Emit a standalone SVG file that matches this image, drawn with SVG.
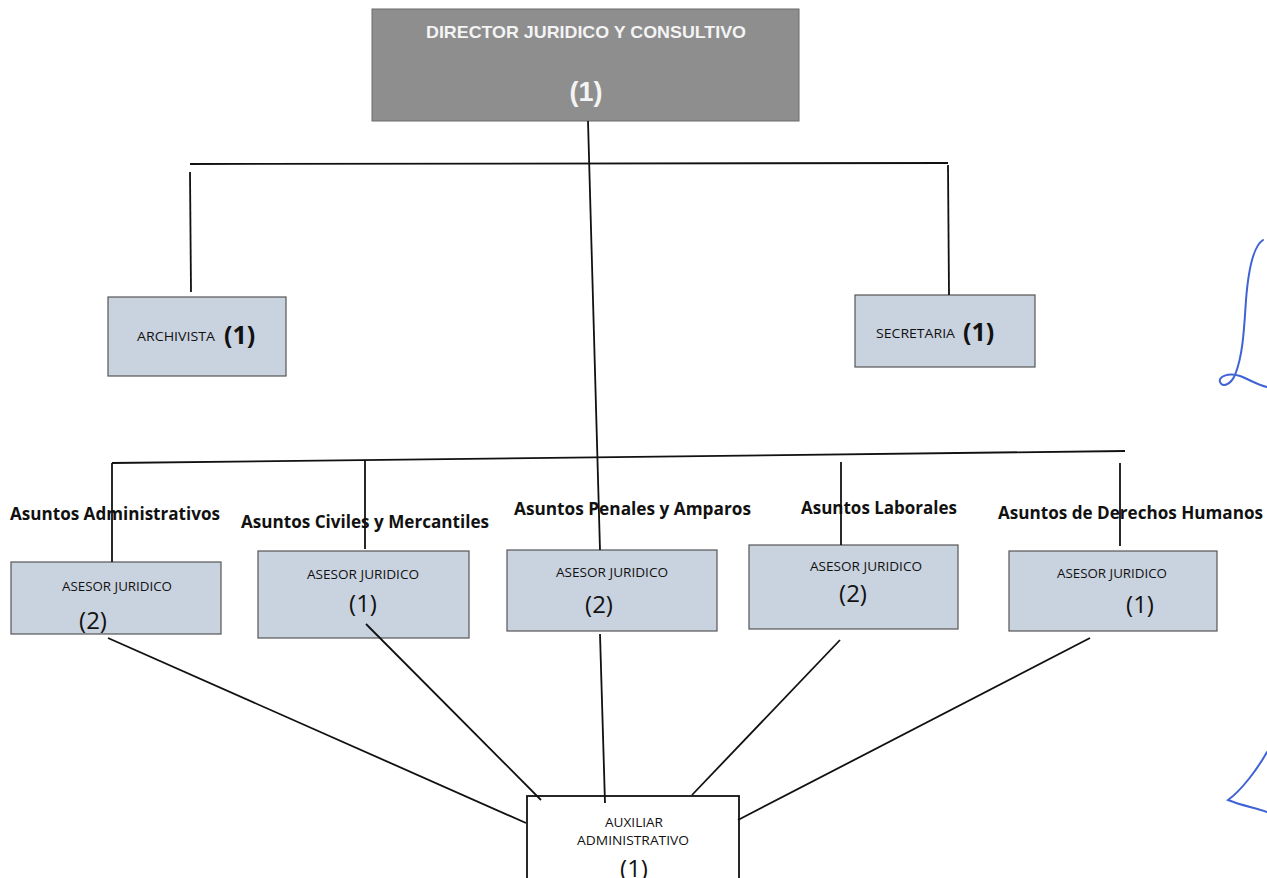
<svg xmlns="http://www.w3.org/2000/svg" width="1267" height="878" viewBox="0 0 1267 878">
<style>
.box{fill:#c9d2df;stroke:#555;stroke-width:1.2}
.ln{stroke:#111;stroke-width:1.8;fill:none}
.lbl{font-family:"Open Sans","Noto Sans",sans-serif;font-weight:bold;font-size:17px;fill:#111}
.sm{font-family:"Open Sans","Noto Sans",sans-serif;font-size:12.5px;fill:#111}
.num{font-family:"Open Sans","Noto Sans",sans-serif;font-size:24px;fill:#111}
.bnum{font-family:"Open Sans","Noto Sans",sans-serif;font-weight:bold;font-size:25px;fill:#111}
.ink{stroke:#3f63d6;stroke-width:2;fill:none;stroke-linecap:round}
</style>
<rect width="1267" height="878" fill="#ffffff"/>
<g id="director">
<rect x="372" y="9" width="427" height="112" fill="#8e8e8e" stroke="#6b6b6b" stroke-width="1"/>
<text x="586" y="38" text-anchor="middle" font-family="Liberation Sans,Arial,sans-serif" font-weight="bold" font-size="17" fill="#f4f4f4" textLength="320" lengthAdjust="spacingAndGlyphs">DIRECTOR JURIDICO Y CONSULTIVO</text>
<text x="586" y="101" text-anchor="middle" font-family="Liberation Sans,Arial,sans-serif" font-weight="bold" font-size="27" fill="#f4f4f4">(1)</text>
</g>
<g id="archivista">
<rect class="box" x="108" y="297" width="178" height="79"/>
<text x="137" y="341" class="sm" font-size="13" textLength="78" lengthAdjust="spacingAndGlyphs">ARCHIVISTA</text>
<text x="224" y="344" class="bnum">(1)</text>
</g>
<g id="secretaria">
<rect class="box" x="855" y="295" width="180" height="72"/>
<text x="876" y="338" class="sm" font-size="13" textLength="79" lengthAdjust="spacingAndGlyphs">SECRETARIA</text>
<text x="963" y="341" class="bnum">(1)</text>
</g>
<g id="lbl-admin"><text x="10" y="520" class="lbl" textLength="210" lengthAdjust="spacingAndGlyphs">Asuntos Administrativos</text></g>
<g id="lbl-civil"><text x="241" y="528" class="lbl" textLength="248" lengthAdjust="spacingAndGlyphs">Asuntos Civiles y Mercantiles</text></g>
<g id="lbl-penal"><text x="514" y="515" class="lbl" textLength="237" lengthAdjust="spacingAndGlyphs">Asuntos Penales y Amparos</text></g>
<g id="lbl-laboral"><text x="801" y="514" class="lbl" textLength="156" lengthAdjust="spacingAndGlyphs">Asuntos Laborales</text></g>
<g id="lbl-ddhh"><text x="998" y="519" class="lbl" textLength="265" lengthAdjust="spacingAndGlyphs">Asuntos de Derechos Humanos</text></g>
<g id="asesor1">
<rect class="box" x="11" y="562" width="210" height="72"/>
<text x="117" y="591" class="sm" text-anchor="middle" textLength="110" lengthAdjust="spacingAndGlyphs">ASESOR JURIDICO</text>
<text x="93" y="629" class="num" text-anchor="middle">(2)</text>
</g>
<g id="asesor2">
<rect class="box" x="258" y="551" width="211" height="87"/>
<text x="363" y="579" class="sm" text-anchor="middle" textLength="112" lengthAdjust="spacingAndGlyphs">ASESOR JURIDICO</text>
<text x="363" y="612" class="num" text-anchor="middle">(1)</text>
</g>
<g id="asesor3">
<rect class="box" x="507" y="550" width="210" height="81"/>
<text x="612" y="577" class="sm" text-anchor="middle" textLength="112" lengthAdjust="spacingAndGlyphs">ASESOR JURIDICO</text>
<text x="599" y="613" class="num" text-anchor="middle">(2)</text>
</g>
<g id="asesor4">
<rect class="box" x="749" y="545" width="209" height="84"/>
<text x="866" y="571" class="sm" text-anchor="middle" textLength="112" lengthAdjust="spacingAndGlyphs">ASESOR JURIDICO</text>
<text x="853" y="602" class="num" text-anchor="middle">(2)</text>
</g>
<g id="asesor5">
<rect class="box" x="1009" y="551" width="208" height="80"/>
<text x="1112" y="578" class="sm" text-anchor="middle" textLength="110" lengthAdjust="spacingAndGlyphs">ASESOR JURIDICO</text>
<text x="1140" y="613" class="num" text-anchor="middle">(1)</text>
</g>
<g id="auxiliar">
<rect x="527" y="796" width="212" height="100" fill="#ffffff" stroke="#111" stroke-width="1.8"/>
<text x="634" y="827" class="sm" text-anchor="middle" textLength="58" lengthAdjust="spacingAndGlyphs">AUXILIAR</text>
<text x="633" y="845" class="sm" text-anchor="middle" textLength="112" lengthAdjust="spacingAndGlyphs">ADMINISTRATIVO</text>
<text x="634" y="877" class="num" text-anchor="middle">(1)</text>
</g>
<g id="connectors">
<path class="ln" d="M588,121 L600,550"/>
<path class="ln" d="M190,164 L948,163"/>
<path class="ln" d="M190,172 L191,292"/>
<path class="ln" d="M948,165 L949,295"/>
<path class="ln" d="M112,463 L1125,451"/>
<path class="ln" d="M112,463 L112,562"/>
<path class="ln" d="M365,460 L365,549"/>
<path class="ln" d="M841,462 L841,545"/>
<path class="ln" d="M1120,463 L1120,546"/>
<path class="ln" d="M108,638 L526,823"/>
<path class="ln" d="M366,624 L541,800"/>
<path class="ln" d="M600,634 L605,803"/>
<path class="ln" d="M840,640 L692,795"/>
<path class="ln" d="M1090,638 L738,820"/>
</g>
<g id="ink">
<path class="ink" d="M1263,240 C1255,245 1249,262 1246,300 C1244,330 1243,355 1235,375 C1230,386 1222,387 1220,382 C1218,377 1228,372 1240,376 C1250,380 1258,385 1267,387"/>
<path class="ink" d="M1267,752 C1258,768 1242,790 1228,800 C1240,805 1255,808 1267,812"/>
</g>
</svg>
